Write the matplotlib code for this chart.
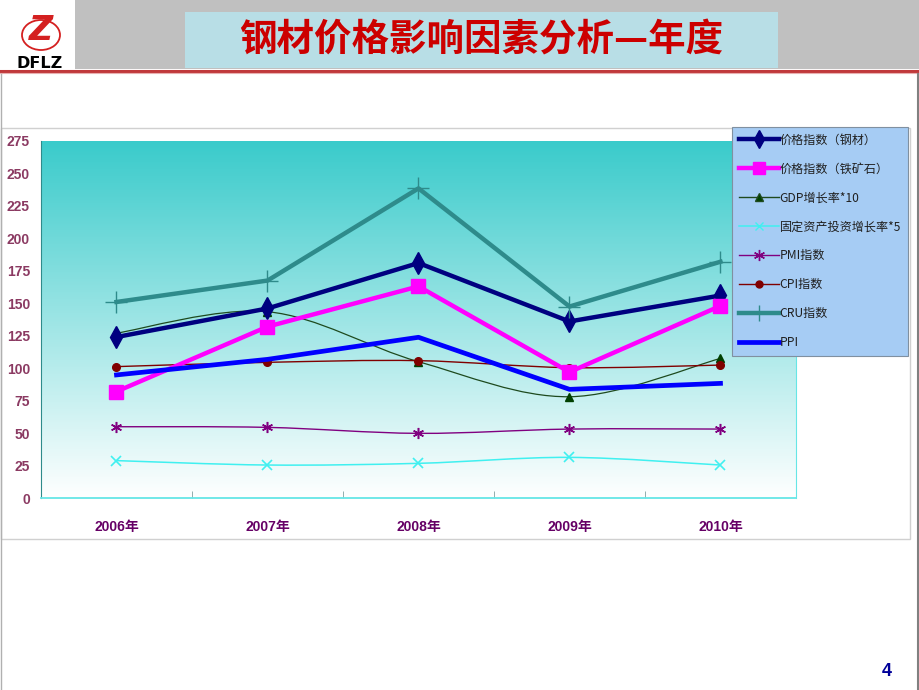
import numpy as np
import matplotlib
import matplotlib.pyplot as plt
from matplotlib.path import Path
from matplotlib.patches import PathPatch, Rectangle, Ellipse
from matplotlib.lines import Line2D
from matplotlib.colors import LinearSegmentedColormap

matplotlib.use("Agg")
plt.rcParams['font.family'] = ['Noto Sans CJK SC', 'DejaVu Sans']

# data
years = ["2006年", "2007年", "2008年", "2009年", "2010年"]
steel_price = [124, 146, 181, 136, 156]
ore_price = [82, 132, 163, 97, 148]
gdp_x10 = [127, 143.5, 105, 78, 107.5]
invest_x5 = [28.8, 25.4, 26.7, 31.3, 25.4]
pmi = [54.9, 54.4, 49.8, 53.1, 53.1]
cpi = [101.2, 104.5, 105.8, 100.4, 102.4]
cru = [151, 167.5, 238.5, 147.5, 182]
ppi = [94.8, 106.8, 123.8, 83.7, 88.3]

labels = ["价格指数（钢材）", "价格指数（铁矿石）", "GDP增长率*10", "固定资产投资增长率*5",
          "PMI指数", "CPI指数", "CRU指数", "PPI"]

W, H = 920, 690
fig = plt.figure(figsize=(W / 100, H / 100), dpi=100)


def fx(px):
    return px / W


def fy(py):
    return 1 - py / H


# ---- slide header ----
fig.patches.append(Rectangle((fx(75), fy(69)), fx(920 - 75), 69 / H, transform=fig.transFigure,
                             facecolor="#C0C0C0", edgecolor="none", zorder=0))
fig.patches.append(Rectangle((fx(185), fy(68)), fx(778 - 185), 56 / H, transform=fig.transFigure,
                             facecolor="#B8DEE6", edgecolor="none", zorder=1))
fig.text(fx(481), fy(40), "钢材价格影响因素分析—年度", color="#CC0000", fontsize=27,
         fontweight="bold", ha="center", va="center")
fig.add_artist(Line2D([0, 1], [fy(70.5), fy(70.5)], transform=fig.transFigure, color="#C0393B", lw=2.2))
fig.add_artist(Line2D([0, 1], [fy(73), fy(73)], transform=fig.transFigure, color="#E8B0B0", lw=0.8))
# slide frame
fig.add_artist(Line2D([fx(1), fx(1)], [fy(74), 0], transform=fig.transFigure, color="#B0B0B0", lw=1))
fig.add_artist(Line2D([fx(918), fx(918)], [fy(74), 0], transform=fig.transFigure, color="#808080", lw=1.5))

# logo
fig.patches.append(Ellipse((fx(41), fy(35)), fx(38), 30 / H, transform=fig.transFigure,
                           facecolor="none", edgecolor="#D42020", lw=1.3, zorder=3))
fig.text(fx(41), fy(31), "Z", color="#D42020", fontsize=24, fontweight="bold", style="italic",
         ha="center", va="center", family="DejaVu Sans")
fig.text(fx(40), fy(63), "DFLZ", color="black", fontsize=11.5, fontweight="bold",
         ha="center", va="center", family="DejaVu Sans")

# page number
fig.text(fx(887), fy(672), "4", color="#000099", fontsize=13, fontweight="bold",
         ha="center", va="center", family="Liberation Sans")

# chart frame
fig.patches.append(Rectangle((fx(1), fy(539)), fx(909), 411 / H, transform=fig.transFigure,
                             facecolor="none", edgecolor="#D0D0D0", lw=1, zorder=1))

# ---- plot area ----
ax = fig.add_axes([fx(41), fy(498), fx(755), 357 / H])
ax.set_xlim(-0.5, 4.5)
ax.set_ylim(0, 275)

grad = LinearSegmentedColormap.from_list("g", ["#FFFFFF", "#3ACBCB"])
ax.imshow(np.linspace(0, 1, 256).reshape(-1, 1), cmap=grad, origin="lower", aspect="auto",
          extent=(-0.5, 4.5, 0, 275), zorder=0)

x = np.arange(len(years))


def smooth(ax, ys, color, lw, z):
    pts = np.column_stack([x, ys]).astype(float)
    ext = np.vstack([pts[0], pts, pts[-1]])
    verts = [pts[0]]
    codes = [Path.MOVETO]
    for i in range(len(pts) - 1):
        p0, p1, p2, p3 = ext[i], ext[i + 1], ext[i + 2], ext[i + 3]
        verts += [p1 + (p2 - p0) / 6, p2 - (p3 - p1) / 6, p2]
        codes += [Path.CURVE4] * 3
    ax.add_patch(PathPatch(Path(verts, codes), facecolor="none", edgecolor=color, lw=lw, zorder=z))


asterisk = (6, 2, 0)

ax.plot(x, steel_price, color="#000080", lw=3.2, marker="d", ms=11, zorder=10)
ax.plot(x, ore_price, color="#FF00FF", lw=3.2, marker="s", ms=10, zorder=10)
smooth(ax, gdp_x10, "#1E4A1E", 0.9, 9)
ax.plot(x, gdp_x10, ls="none", marker="^", ms=6, color="#004000", zorder=9)
smooth(ax, invest_x5, "#40F0F0", 1.1, 9)
ax.plot(x, invest_x5, ls="none", marker="x", ms=7, mew=1.2, color="#40F0F0", zorder=9)
smooth(ax, pmi, "#800080", 1.0, 9)
ax.plot(x, pmi, ls="none", marker=asterisk, ms=8, mew=1.1, color="#800080", zorder=9)
smooth(ax, cpi, "#800000", 1.0, 9)
ax.plot(x, cpi, ls="none", marker="o", ms=5.5, color="#800000", zorder=9)
ax.plot(x, cru, color="#2E8B8B", lw=3.2, marker="+", ms=16, mew=1, zorder=10)
ax.plot(x, ppi, color="#0000FF", lw=3.4, zorder=11)

# axes styling
ax.spines["top"].set_visible(False)
ax.spines["left"].set_color("#2E8B8B")
ax.spines["bottom"].set_color("#66E6E6")
ax.spines["right"].set_color("#66E6E6")
ax.spines["bottom"].set_linewidth(1.3)

ax.set_yticks(np.arange(0, 276, 25))
ax.tick_params(axis="y", length=0, pad=8, labelcolor="#8B3A62", labelsize=10)
for t in ax.get_yticklabels():
    t.set_family(["Liberation Sans"])
    t.set_fontweight("bold")

ax.set_xticks(x)
ax.set_xticklabels(years)
ax.set_xticks(np.arange(0.5, 4, 1), minor=True)
ax.tick_params(axis="x", which="major", length=0, pad=16, labelcolor="#660066", labelsize=10)
ax.tick_params(axis="x", which="minor", length=5, direction="in", color="#80A0A0")
for t in ax.get_xticklabels():
    t.set_family(["Liberation Sans", "Noto Sans CJK SC"])
    t.set_fontweight("bold")

# legend
handles = [
    Line2D([], [], color="#000080", lw=3.2, marker="d", ms=9),
    Line2D([], [], color="#FF00FF", lw=3.2, marker="s", ms=8),
    Line2D([], [], color="#1E4A1E", lw=1, marker="^", ms=6, markerfacecolor="#004000"),
    Line2D([], [], color="#40F0F0", lw=1.1, marker="x", ms=6),
    Line2D([], [], color="#800080", lw=1, marker=asterisk, ms=8),
    Line2D([], [], color="#800000", lw=1, marker="o", ms=5),
    Line2D([], [], color="#2E8B8B", lw=3.2, marker="+", ms=12),
    Line2D([], [], color="#0000FF", lw=3.4),
]
leg = fig.legend(handles, labels, loc="upper left", bbox_to_anchor=(fx(732), fy(127)),
                 bbox_transform=fig.transFigure, frameon=True, fancybox=False,
                 facecolor="#A6CCF4", edgecolor="#8090A0", framealpha=1,
                 fontsize=8.7, handlelength=3.3, handletextpad=0.1, labelspacing=1.32,
                 borderpad=0.55, borderaxespad=0)
leg.get_frame().set_linewidth(0.8)
for t in leg.get_texts():
    t.set_color("#202020")

fig.savefig("out.png", dpi=100)
